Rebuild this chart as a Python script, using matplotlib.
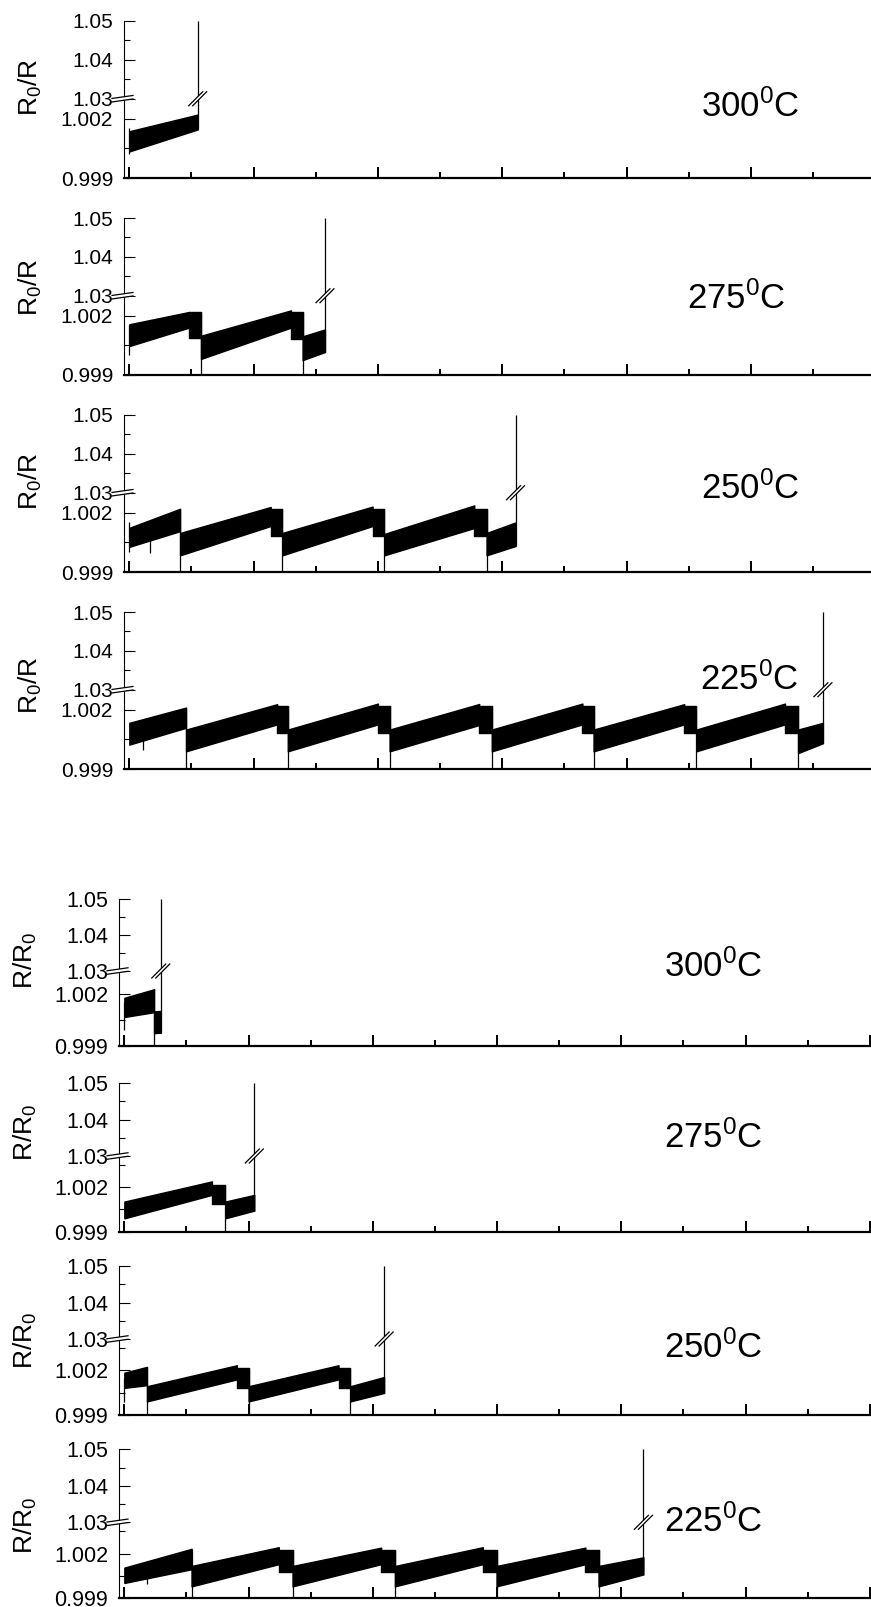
import numpy as np
import matplotlib
matplotlib.use('Agg')
import matplotlib.pyplot as plt
from matplotlib.ticker import MultipleLocator
from matplotlib.lines import Line2D
from matplotlib.patches import Polygon
from matplotlib.transforms import IdentityTransform

plt.rcParams['font.family'] = ['Liberation Sans', 'DejaVu Sans']
plt.rcParams['mathtext.default'] = 'regular'

W, H = 871, 1607

# ---- data ----
# each band: (x0, x1, low0, low1, high0, high1), x in major-tick units
temps = ['300', '275', '250', '225']

top_300 = [(0.0, 0.55, 1.00034, 1.00145, 1.00136, 1.0022)]
top_275 = [(0.0, 0.48, 1.00046, 1.00139, 1.00156, 1.00218),
           (0.48, 0.576, 1.00086, 1.00086, 1.00218, 1.00218),
           (0.576, 1.30, 0.99981, 1.00139, 1.00098, 1.00226),
           (1.30, 1.394, 1.0008, 1.0008, 1.00218, 1.00218),
           (1.394, 1.574, 0.99975, 1.00016, 1.00095, 1.0013)]
top_250 = [(0.0, 0.408, 1.00027, 1.00106, 1.00123, 1.00219),
           (0.408, 1.137, 0.99984, 1.00132, 1.00097, 1.00228),
           (1.137, 1.231, 1.00083, 1.00083, 1.00219, 1.00219),
           (1.231, 1.957, 0.99984, 1.00132, 1.00097, 1.0023),
           (1.957, 2.051, 1.00083, 1.00083, 1.00219, 1.00219),
           (2.051, 2.775, 0.99984, 1.00122, 1.00092, 1.00236),
           (2.775, 2.874, 1.00083, 1.00083, 1.00219, 1.00219),
           (2.874, 3.107, 0.99984, 1.00031, 1.00097, 1.0015)]
top_225 = [(0.0, 0.456, 1.00023, 1.00108, 1.00133, 1.0021),
           (0.456, 1.189, 0.99989, 1.00125, 1.00099, 1.00227),
           (1.189, 1.275, 1.00082, 1.00082, 1.00219, 1.00219),
           (1.275, 2.0, 0.99989, 1.00125, 1.00099, 1.0023),
           (2.0, 2.094, 1.00082, 1.00082, 1.00219, 1.00219),
           (2.094, 2.815, 0.99989, 1.00122, 1.00099, 1.00228),
           (2.815, 2.916, 1.00082, 1.00082, 1.00219, 1.00219),
           (2.916, 3.645, 0.99989, 1.00125, 1.00099, 1.0023),
           (3.645, 3.735, 1.00082, 1.00082, 1.00219, 1.00219),
           (3.735, 4.464, 0.99989, 1.00125, 1.00099, 1.00227),
           (4.464, 4.561, 1.00082, 1.00082, 1.00219, 1.00219),
           (4.561, 5.275, 0.99989, 1.00125, 1.00099, 1.0023),
           (5.275, 5.38, 1.00082, 1.00082, 1.00219, 1.00219),
           (5.38, 5.58, 0.9998, 1.0003, 1.00099, 1.00133)]

bot_300 = [(0.0, 0.239, 1.00065, 1.00093, 1.00176, 1.00225),
           (0.239, 0.293, 0.99972, 0.99975, 1.00098, 1.001)]
bot_275 = [(0.0, 0.705, 0.9999, 1.00148, 1.00103, 1.00239),
           (0.705, 0.812, 1.00087, 1.00087, 1.00216, 1.00216),
           (0.812, 1.046, 0.9999, 1.00042, 1.00103, 1.00148)]
bot_250 = [(0.0, 0.182, 1.00082, 1.001, 1.00184, 1.00223),
           (0.182, 0.906, 0.99991, 1.00139, 1.00093, 1.00234),
           (0.906, 1.0, 1.00082, 1.00082, 1.00218, 1.00218),
           (1.0, 1.724, 0.99991, 1.00139, 1.00093, 1.00234),
           (1.724, 1.818, 1.00082, 1.00082, 1.00218, 1.00218),
           (1.818, 2.091, 0.99991, 1.00048, 1.00093, 1.00155)]
bot_225 = [(0.0, 0.541, 1.00003, 1.00095, 1.00106, 1.00232),
           (0.541, 1.243, 0.9998, 1.00129, 1.00117, 1.00243),
           (1.243, 1.354, 1.00076, 1.00076, 1.00227, 1.00227),
           (1.354, 2.067, 0.9998, 1.00129, 1.00117, 1.0024),
           (2.067, 2.178, 1.00076, 1.00076, 1.00227, 1.00227),
           (2.178, 2.885, 0.9998, 1.00129, 1.00117, 1.00243),
           (2.885, 2.996, 1.00076, 1.00076, 1.00227, 1.00227),
           (2.996, 3.711, 0.9998, 1.00129, 1.00117, 1.0024),
           (3.711, 3.817, 1.00076, 1.00076, 1.00227, 1.00227),
           (3.817, 4.178, 0.9998, 1.0006, 1.00117, 1.00175)]

# x where the signal drops to the axis
top_drops = [[], [0.576, 1.394], [0.408, 1.231, 2.051, 2.874],
             [0.456, 1.275, 2.094, 2.916, 3.735, 4.561, 5.38]]
bot_drops = [[0.239], [0.812], [0.182, 1.0, 1.818],
             [0.541, 1.354, 2.178, 2.996, 3.817]]
# short downward spikes (x, lowest value)
top_dips = [[(0.0, 1.0002)], [(0.0, 1.0)], [(0.0, 1.0), (0.166, 0.99996)], [(0.109, 0.99997)]]
bot_dips = [[(0.0, 0.9999)], [], [(0.0, 0.9999)], [(0.183, 0.99998)]]

top_bands = [top_300, top_275, top_250, top_225]
bot_bands = [bot_300, bot_275, bot_250, bot_225]

ymajor = [0.999, 1.002, 1.03, 1.04, 1.05]
ymajor_labels = ['0.999', '1.002', '1.03', '1.04', '1.05']


def px(v):
    return v * 0.72


def make_scale(lo_top, frac):
    def fwd(y):
        return np.interp(np.asarray(y, dtype=float), [0.999, lo_top, 1.03, 1.05], [0, frac, frac, 1])

    def inv(t):
        return np.interp(np.asarray(t, dtype=float), [0, frac, frac + 1e-9, 1], [0.999, lo_top, 1.03, 1.05])
    return fwd, inv


def double_slash(fig, p, dx_l, dx_r, dy_l, dy_r, gap, horiz):
    # p: centre in display px; two parallel lines with white between
    x0, y0 = p[0] - dx_l, p[1] - dy_l
    x1, y1 = p[0] + dx_r, p[1] + dy_r
    if horiz:
        o = np.array([gap / 2, 0])
    else:
        o = np.array([0, gap / 2])
    a = np.array([x0, y0])
    b = np.array([x1, y1])
    poly = Polygon([a - o, b - o, b + o, a + o], closed=True, facecolor='white',
                   edgecolor='none', transform=IdentityTransform(), zorder=10)
    fig.add_artist(poly)
    for s in (-1, 1):
        fig.add_artist(Line2D([a[0] + s * o[0], b[0] + s * o[0]], [a[1] + s * o[1], b[1] + s * o[1]],
                              color='black', lw=0.9, transform=IdentityTransform(), zorder=11))


def draw_panel(fig, rect_px, xlim, lo_top, frac, bands, drops, dips, ylabel, lab_pos,
               label_size, tick_size, minor_y):
    left, top, right, bottom = rect_px
    ax = fig.add_axes([left / W, 1 - bottom / H, (right - left) / W, (bottom - top) / H])
    fwd, inv = make_scale(lo_top, frac)
    ax.set_yscale('function', functions=(fwd, inv))
    ax.set_xlim(*xlim)
    ax.set_ylim(0.999, 1.05)

    for (x0, x1, l0, l1, h0, h1) in bands:
        ax.fill_between([x0, x1], [l0, l1], [h0, h1], color='black', lw=1.0)
    for d in drops:
        prev = [b for b in bands if abs(b[1] - d) < 1e-6][0]
        ax.vlines(d, 0.999, prev[5], color='black', lw=0.9)
    for (x, ymin) in dips:
        ax.vlines(x, ymin, 1.0015, color='black', lw=0.9)
    # last point jumps off scale
    last = bands[-1]
    ax.vlines(last[1], last[3], 1.05, color='black', lw=0.9)

    for s in ['top', 'right']:
        ax.spines[s].set_visible(False)
    ax.spines['bottom'].set_linewidth(px(2.2))
    ax.spines['left'].set_linewidth(px(1.1))

    ax.xaxis.set_major_locator(MultipleLocator(1))
    ax.xaxis.set_minor_locator(MultipleLocator(0.5))
    ax.tick_params(axis='x', which='major', direction='in', length=px(11), width=px(2),
                   labelbottom=False)
    ax.tick_params(axis='x', which='minor', direction='in', length=px(6), width=px(2))
    ax.set_yticks(ymajor, labels=ymajor_labels)
    ax.set_yticks(minor_y, minor=True)
    ax.tick_params(axis='y', which='major', direction='in', length=px(10.5), width=px(1.1),
                   labelsize=tick_size, pad=px(11))
    ax.tick_params(axis='y', which='minor', direction='in', length=px(5.5), width=px(1.1))

    ax.text(lab_pos[0], lab_pos[1], ylabel, transform=ax.transAxes, rotation=90,
            ha='center', va='center', fontsize=label_size)

    # break marks on the axis and on the jump
    p = ax.transAxes.transform((0, frac))
    double_slash(fig, p, 12, 9, 1.5, 1.5, 3.5, False)
    p = ax.get_xaxis_transform().transform((last[1], frac))
    double_slash(fig, p, 7, 7, 7, 7, 4, True)
    return ax


fig = plt.figure(figsize=(W / 100, H / 100), dpi=100)

top_bottoms = [178, 375, 572, 769]
top_lab_y = [0.576, 0.56, 0.58, 0.53]
top_text = [(701, 117), (687, 309), (701, 499), (700, 690)]
for i in range(4):
    b = top_bottoms[i]
    draw_panel(fig, (124, b - 157, W, b), (-0.043, 5.967), 1.003, 0.505, top_bands[i],
               top_drops[i], top_dips[i], 'R$_0$/R', (-0.125, top_lab_y[i]), 19, 15,
               [1.0005, 1.035, 1.045])
    fig.text(top_text[i][0] / W, 1 - top_text[i][1] / H, temps[i] + '$^0$C',
             ha='left', va='baseline', fontsize=25,
             family=['Liberation Sans Narrow', 'Liberation Sans'])

bot_bottoms = [1045.7, 1231.7, 1415, 1598.3]
bot_heights = [146.4, 148.4, 149, 149]
bot_lo_top = [1.0033, 1.0041, 1.0041, 1.0041]
bot_minor = [[1.0005, 1.035, 1.045]] + [[1.0005, 1.0035, 1.035, 1.045]] * 3
bot_lab_y = [0.585, 0.67, 0.5, 0.49]
bot_text = [(664, 977), (664, 1148), (664, 1358), (664, 1532)]
for i in range(4):
    b = bot_bottoms[i]
    draw_panel(fig, (119, b - bot_heights[i], W, b), (-0.043, 6.01), bot_lo_top[i], 0.51,
               bot_bands[i], bot_drops[i], bot_dips[i], 'R/R$_0$', (-0.124, bot_lab_y[i]),
               19, 15.5, bot_minor[i])
    fig.text(bot_text[i][0] / W, 1 - bot_text[i][1] / H, temps[i] + '$^0$C',
             ha='left', va='baseline', fontsize=25,
             family=['Liberation Sans Narrow', 'Liberation Sans'])

fig.savefig('out.png', dpi=100)
